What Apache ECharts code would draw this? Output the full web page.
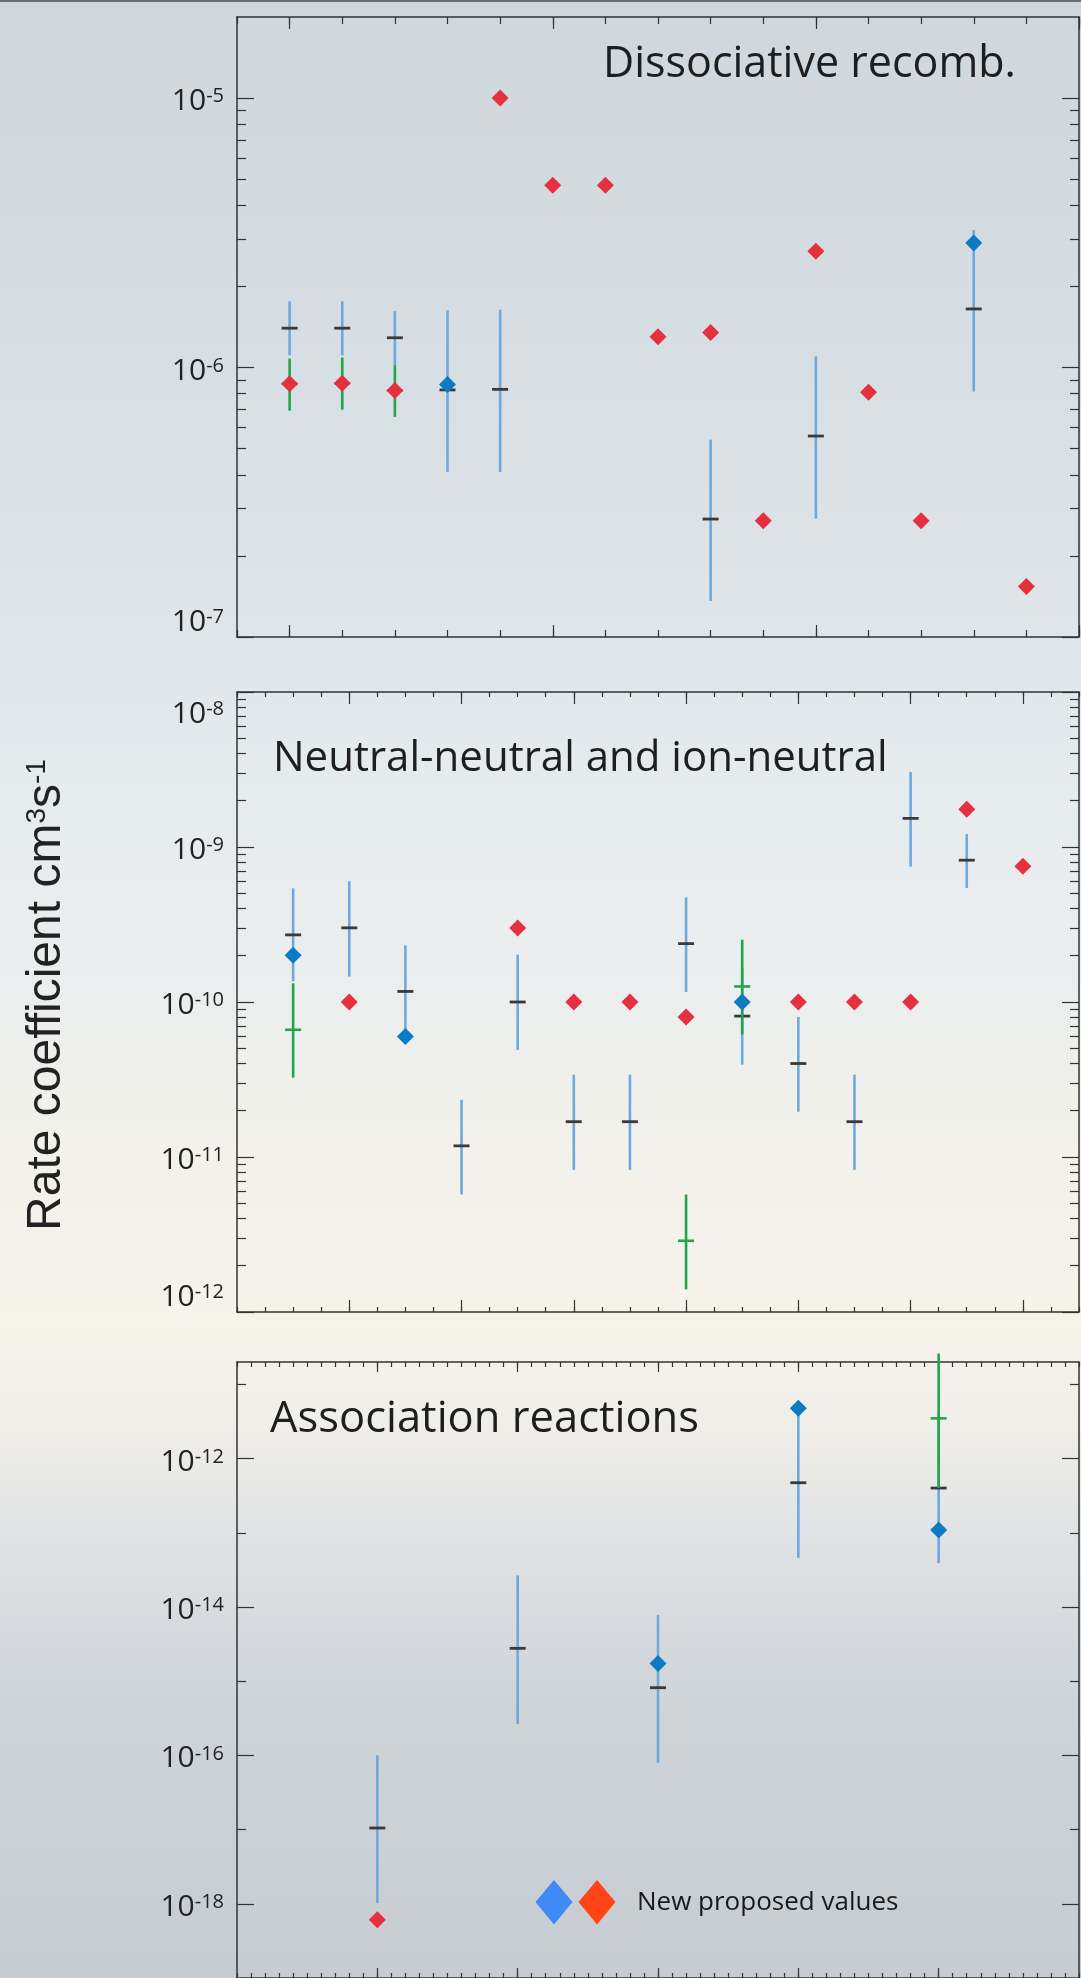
<!DOCTYPE html>
<html><head><meta charset="utf-8">
<script src="https://cdn.jsdelivr.net/npm/echarts@6/dist/echarts.min.js"></script>
<style>html,body{margin:0;padding:0;}#c{width:1081px;height:1978px;}</style>
</head><body><div id="c"></div>
<script>
// ===== Panel 1: Dissociative recombination =====
const drRedX  = [1, 2, 3, 5, 6, 7, 8, 9, 10, 11, 12, 13, 15];
const drRedY  = [8.7e-7, 8.74e-7, 8.22e-7, 1.0e-5, 4.75e-6, 4.75e-6, 1.30e-6, 1.35e-6, 2.7e-7, 2.7e-6, 8.1e-7, 2.7e-7, 1.54e-7];
const drBlueX = [4, 14];
const drBlueY = [8.65e-7, 2.9e-6];
const drBarX    = [1, 2, 3, 4, 5, 9, 11, 14];
const drBarMid  = [1.40e-6, 1.40e-6, 1.29e-6, 8.26e-7, 8.3e-7, 2.74e-7, 5.57e-7, 1.65e-6];
const drBarLow  = [1.11e-6, 1.11e-6, 1.02e-6, 4.10e-7, 4.1e-7, 1.36e-7, 2.75e-7, 8.15e-7];
const drBarHigh = [1.76e-6, 1.76e-6, 1.62e-6, 1.63e-6, 1.64e-6, 5.4e-7, 1.1e-6, 3.24e-6];
const drGreenX    = [1, 2, 3];
const drGreenMid  = [8.7e-7, 8.74e-7, 8.22e-7];
const drGreenLow  = [6.92e-7, 6.98e-7, 6.56e-7];
const drGreenHigh = [1.08e-6, 1.09e-6, 1.02e-6];
const drYLabels = [1e-7, 1e-6, 1e-5];

// ===== Panel 2: Neutral-neutral and ion-neutral =====
const nnRedX  = [2, 5, 6, 7, 8, 10, 11, 12, 13, 14];
const nnRedY  = [1e-10, 3.0e-10, 1e-10, 1e-10, 8.0e-11, 1e-10, 1e-10, 1e-10, 1.75e-9, 7.52e-10];
const nnBlueX = [1, 3, 9];
const nnBlueY = [2.0e-10, 5.98e-11, 1.0e-10];
const nnBarX    = [1, 2, 3, 4, 5, 6, 7, 8, 9, 10, 11, 12, 13];
const nnBarMid  = [2.71e-10, 3.01e-10, 1.17e-10, 1.18e-11, 1.0e-10, 1.69e-11, 1.69e-11, 2.38e-10, 8.11e-11, 4.01e-11, 1.69e-11, 1.53e-9, 8.22e-10];
const nnBarLow  = [1.36e-10, 1.46e-10, 5.9e-11, 5.73e-12, 4.91e-11, 8.26e-12, 8.26e-12, 1.16e-10, 3.94e-11, 1.96e-11, 8.26e-12, 7.47e-10, 5.44e-10];
const nnBarHigh = [5.41e-10, 6.02e-10, 2.32e-10, 2.34e-11, 2.02e-10, 3.4e-11, 3.4e-11, 4.73e-10, 1.67e-10, 8.0e-11, 3.4e-11, 3.05e-9, 1.21e-9];
const nnGreenX    = [1, 8, 9];
const nnGreenMid  = [6.62e-11, 2.88e-12, 1.26e-10];
const nnGreenLow  = [3.25e-11, 1.4e-12, 6.18e-11];
const nnGreenHigh = [1.32e-10, 5.73e-12, 2.52e-10];
const nnYLabels = [1e-12, 1e-11, 1e-10, 1e-9, 1e-8];

// ===== Panel 3: Association reactions =====
const asRedX  = [1];
const asRedY  = [6.1e-19];
const asBlueX = [3, 4, 5];
const asBlueY = [1.73e-15, 4.78e-12, 1.09e-13];
const asBarX    = [1, 2, 3, 4, 5];
const asBarMid  = [1.05e-17, 2.77e-15, 8.17e-16, 4.72e-13, 4.0e-13];
const asBarLow  = [1.02e-18, 2.66e-16, 7.94e-17, 4.6e-14, 3.9e-14];
const asBarHigh = [1e-16, 2.66e-14, 7.85e-15, 4.78e-12, 4.2e-12];
const asGreenX    = [5];
const asGreenMid  = [3.48e-12];
const asGreenLow  = [4.0e-13];
const asGreenHigh = [2.6e-11];
const asYLabels = [1e-18, 1e-16, 1e-14, 1e-12];

const titles = ['Dissociative recomb.', 'Neutral-neutral and ion-neutral', 'Association reactions'];
const yTitle = 'Rate coefficient cm';
const legendText = 'New proposed values';

// ===== styling =====
const AX = '#333333';
const C_RED = '#e5303e', C_BLUE = '#0b7cc4', C_BAR = '#6ea8dd', C_GREEN = '#22a54a', C_DASH = '#3a3a3a';
const LABEL_FONT = 'Open Sans';

const panels = [
  {grid: {left: 237, top: 17, width: 842, height: 620}, xmin: 0, xmax: 16, minorStep: 1, majors: [1, 6, 11, 16], xMinorLen: 7, xMajorLen: 12,
   ymin: 1e-7, ymax: 2e-5, labels: drYLabels, oddShort: false},
  {grid: {left: 237, top: 692, width: 842, height: 620}, xmin: 0, xmax: 15, minorStep: 0.5, majors: [2, 4, 6, 8, 10, 12, 14], xMinorLen: 5, xMajorLen: 12,
   ymin: 1e-12, ymax: 1e-8, labels: nnYLabels, oddShort: false},
  {grid: {left: 237, top: 1362, width: 842, height: 621}, xmin: 0, xmax: 6, minorStep: 0.1, majors: [1, 2, 3, 4, 5], xMinorLen: 5, xMajorLen: 10,
   ymin: 1e-19, ymax: 2e-11, labels: asYLabels, oddShort: true}
];

const xAxes = [], yAxes = [], mainIdx = [];
panels.forEach((p, g) => {
  const minorX = [];
  for (let k = 0; p.xmin + k * p.minorStep <= p.xmax + 1e-9; k++) minorX.push(+(p.xmin + k * p.minorStep).toFixed(4));
  const mkX = (pos, ticks, len, line) => ({
    gridIndex: g, type: 'value', min: p.xmin, max: p.xmax, position: pos,
    axisLine: {show: line, onZero: false, lineStyle: {color: AX, width: 1.5}},
    axisTick: {show: true, inside: true, length: len, customValues: ticks, lineStyle: {color: AX, width: 1.2}},
    axisLabel: {show: false}, splitLine: {show: false}
  });
  const xMain = xAxes.length;
  xAxes.push(mkX('bottom', minorX, p.xMinorLen, true));
  xAxes.push(mkX('bottom', p.majors, p.xMajorLen, false));
  xAxes.push(mkX('top', minorX, p.xMinorLen, true));
  xAxes.push(mkX('top', p.majors, p.xMajorLen, false));

  const lo = Math.log10(p.ymin), hi = Math.log10(p.ymax);
  const majorY = [], minorY = [];
  for (let n = Math.floor(lo); n <= Math.ceil(hi); n++) {
    if (n >= lo - 1e-9 && n <= hi + 1e-9) {
      if (p.oddShort && Math.abs(n % 2) === 1) minorY.push(n); else majorY.push(n);
    }
    if (!p.oddShort) for (let k = 2; k <= 9; k++) {
      const v = n + Math.log10(k);
      if (v > lo && v < hi) minorY.push(v);
    }
  }
  const yMain = yAxes.length;
  const labels = p.labels;
  yAxes.push({
    gridIndex: g, type: 'log', logBase: 10, min: p.ymin, max: p.ymax, interval: 1, position: 'left',
    axisLine: {show: true, onZero: false, lineStyle: {color: AX, width: 1.5}},
    axisTick: {show: false}, splitLine: {show: false},
    axisLabel: {
      margin: 13, color: '#222', padding: [7, 0, 0, 0],
      verticalAlignMinLabel: 'bottom', verticalAlignMaxLabel: 'top',
      formatter: v => {
        const ok = labels.some(t => Math.abs(Math.log10(t) - Math.log10(v)) < 1e-3);
        if (!ok) return '';
        return '{b|10}{s|-' + Math.abs(Math.round(Math.log10(v))) + '}';
      },
      rich: {
        b: {fontFamily: LABEL_FONT, fontSize: 30, color: '#222'},
        s: {fontFamily: LABEL_FONT, fontSize: 20, color: '#222', verticalAlign: 'top'}
      }
    }
  });
  const mkY = (pos, ticks, len, line) => ({
    gridIndex: g, type: 'value', min: lo, max: hi, position: pos,
    axisLine: {show: line, onZero: false, lineStyle: {color: AX, width: 1.5}},
    axisTick: {show: true, inside: true, length: len, customValues: ticks, lineStyle: {color: AX, width: 1.2}},
    axisLabel: {show: false}, splitLine: {show: false}
  });
  yAxes.push(mkY('left', majorY, 17, false));
  yAxes.push(mkY('left', minorY, 9, false));
  yAxes.push(mkY('right', majorY, 17, true));
  yAxes.push(mkY('right', minorY, 9, false));
  mainIdx.push({x: xMain, y: yMain});
});

function barRender(color, withDash) {
  return function (params, api) {
    const x = api.value(0);
    const a = api.coord([x, api.value(1)]);
    const b = api.coord([x, api.value(2)]);
    const ch = [{type: 'line', shape: {x1: a[0], y1: a[1], x2: b[0], y2: b[1]}, style: {stroke: color, lineWidth: 2.6}}];
    if (withDash) {
      const c = api.coord([x, api.value(3)]);
      ch.push({type: 'line', shape: {x1: c[0] - 8, y1: c[1], x2: c[0] + 8, y2: c[1]}, style: {stroke: color, lineWidth: 2.6}});
    }
    return {type: 'group', children: ch};
  };
}
function dashRender(params, api) {
  const c = api.coord([api.value(0), api.value(1)]);
  return {type: 'line', shape: {x1: c[0] - 8, y1: c[1], x2: c[0] + 8, y2: c[1]}, style: {stroke: C_DASH, lineWidth: 2.8}};
}

const sets = [
  {redX: drRedX, redY: drRedY, blueX: drBlueX, blueY: drBlueY, barX: drBarX, barMid: drBarMid, barLow: drBarLow, barHigh: drBarHigh,
   gX: drGreenX, gMid: drGreenMid, gLow: drGreenLow, gHigh: drGreenHigh},
  {redX: nnRedX, redY: nnRedY, blueX: nnBlueX, blueY: nnBlueY, barX: nnBarX, barMid: nnBarMid, barLow: nnBarLow, barHigh: nnBarHigh,
   gX: nnGreenX, gMid: nnGreenMid, gLow: nnGreenLow, gHigh: nnGreenHigh},
  {redX: asRedX, redY: asRedY, blueX: asBlueX, blueY: asBlueY, barX: asBarX, barMid: asBarMid, barLow: asBarLow, barHigh: asBarHigh,
   gX: asGreenX, gMid: asGreenMid, gLow: asGreenLow, gHigh: asGreenHigh}
];

const series = [];
sets.forEach((s, g) => {
  const ax = {xAxisIndex: mainIdx[g].x, yAxisIndex: mainIdx[g].y};
  series.push(Object.assign({type: 'custom', name: 'range', clip: false, renderItem: barRender(C_BAR, false),
    encode: {x: 0, y: [1, 2]}, data: s.barX.map((x, i) => [x, s.barLow[i], s.barHigh[i]])}, ax));
  series.push(Object.assign({type: 'custom', name: 'mean', clip: false, renderItem: dashRender,
    encode: {x: 0, y: 1}, data: s.barX.map((x, i) => [x, s.barMid[i]])}, ax));
  series.push(Object.assign({type: 'scatter', name: 'new (red)', symbol: 'diamond', symbolSize: 17,
    itemStyle: {color: C_RED, opacity: 1}, data: s.redX.map((x, i) => [x, s.redY[i]])}, ax));
  series.push(Object.assign({type: 'custom', name: 'green', clip: false, renderItem: barRender(C_GREEN, true),
    encode: {x: 0, y: [1, 2]}, data: s.gX.map((x, i) => [x, s.gLow[i], s.gHigh[i], s.gMid[i]])}, ax));
  series.push(Object.assign({type: 'scatter', name: 'new (blue)', symbol: 'diamond', symbolSize: 17,
    itemStyle: {color: C_BLUE, opacity: 1}, data: s.blueX.map((x, i) => [x, s.blueY[i]])}, ax));
});

const graphic = [
  {type: 'rect', shape: {x: 0, y: 0, width: 1081, height: 2}, style: {fill: '#6a6e72'}, silent: true},
  {type: 'text', x: 603, y: 65, style: {text: titles[0], fontFamily: LABEL_FONT, fontSize: 43, fill: '#1e1e1e', align: 'left', verticalAlign: 'middle'}},
  {type: 'text', x: 273, y: 759, style: {text: titles[1], fontFamily: LABEL_FONT, fontSize: 42, fill: '#1e1e1e', align: 'left', verticalAlign: 'middle'}},
  {type: 'text', x: 270, y: 1420, style: {text: titles[2], fontFamily: LABEL_FONT, fontSize: 43.5, fill: '#1e1e1e', align: 'left', verticalAlign: 'middle'}},
  {type: 'text', x: 47, y: 995, rotation: Math.PI / 2,
   style: {text: '{a|' + yTitle + '}{s|3}{a|s}{s|-1}', align: 'center', verticalAlign: 'middle',
     rich: {a: {fontFamily: 'Liberation Sans', fontSize: 48, fill: '#222'}, s: {fontFamily: 'Liberation Sans', fontSize: 28, fill: '#222', verticalAlign: 'top'}}}},
  {type: 'polygon', shape: {points: [[554, 1880], [572.5, 1902], [554, 1924.5], [535.5, 1902]]}, style: {fill: '#3f8af6'}},
  {type: 'polygon', shape: {points: [[597, 1880], [615.5, 1902], [597, 1924.5], [578.5, 1902]]}, style: {fill: '#ff4516'}},
  {type: 'text', x: 637, y: 1903, style: {text: legendText, fontFamily: LABEL_FONT, fontSize: 26, fill: '#1a1a1a', align: 'left', verticalAlign: 'middle'}}
];

const chart = echarts.init(document.getElementById('c'), null, {renderer: 'canvas'});
chart.setOption({
  animation: false,
  backgroundColor: {type: 'linear', x: 0, y: 0, x2: 0, y2: 1, colorStops: [
    {offset: 0, color: '#cfd6dc'}, {offset: 0.15, color: '#d6dde2'}, {offset: 0.3, color: '#dee4e8'},
    {offset: 0.4, color: '#e6ebee'}, {offset: 0.5, color: '#ebeeee'}, {offset: 0.58, color: '#f2f1ea'},
    {offset: 0.67, color: '#f6f3eb'}, {offset: 0.72, color: '#f0eee9'}, {offset: 0.78, color: '#dfe2e4'},
    {offset: 0.86, color: '#cfd4d9'}, {offset: 1, color: '#c7ccd3'}]},
  grid: panels.map(p => p.grid),
  xAxis: xAxes, yAxis: yAxes, series, graphic
});
</script></body></html>
